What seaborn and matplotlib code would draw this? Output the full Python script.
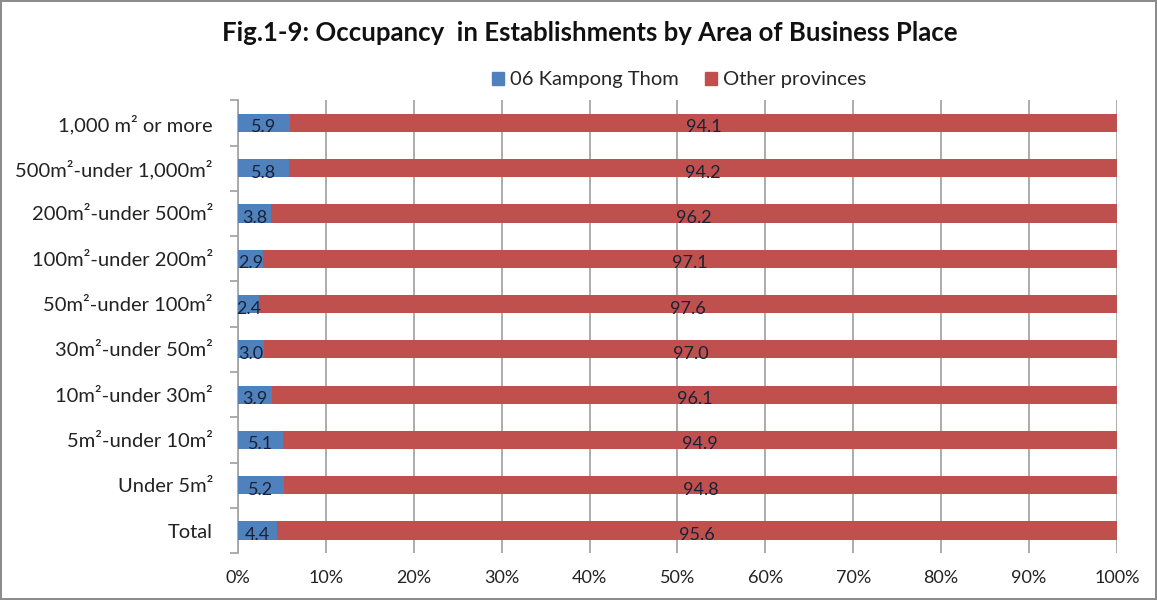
import numpy as np
import pandas as pd
import matplotlib
matplotlib.use("Agg")
import matplotlib.pyplot as plt
import seaborn as sns
from matplotlib.ticker import FixedLocator, PercentFormatter
from matplotlib.patches import Patch

# dane
categories = [
    "1,000 m² or more",
    "500m²-under 1,000m²",
    "200m²-under 500m²",
    "100m²-under 200m²",
    "50m²-under 100m²",
    "30m²-under 50m²",
    "10m²-under 30m²",
    "5m²-under 10m²",
    "Under 5m²",
    "Total",
]
kampong_thom = [5.9, 5.8, 3.8, 2.9, 2.4, 3.0, 3.9, 5.1, 5.2, 4.4]
other_provinces = [94.1, 94.2, 96.2, 97.1, 97.6, 97.0, 96.1, 94.9, 94.8, 95.6]
series_names = ["06 Kampong Thom", "Other provinces"]

blue = "#4F81BD"
red = "#C0504D"
label_color = "#1A2238"

df = pd.DataFrame({
    "category": categories,
    "kt": kampong_thom,
    "other": other_provinces,
})
df["cum"] = df["kt"] + df["other"]

sns.set_style("white")
plt.rcParams["font.family"] = ["Lato", "DejaVu Sans"]

fig = plt.figure(figsize=(11.57, 6.0), dpi=100)
fig.patch.set_edgecolor("#8c8c8c")
fig.patch.set_linewidth(1.5)
ax = fig.add_axes([0.2057, 0.078, 0.7597, 0.755])

# skumulowane: najpierw suma (czerwony), potem niebieski na wierzchu
sns.barplot(data=df, x="cum", y="category", color=red, width=0.4, saturation=1,
            orient="h", ax=ax, linewidth=0, zorder=3)
sns.barplot(data=df, x="kt", y="category", color=blue, width=0.4, saturation=1,
            orient="h", ax=ax, linewidth=0, zorder=4)

# etykiety danych
for i, row in df.iterrows():
    ax.text(row["kt"] / 2, i + 0.1, f"{row['kt']:.1f}", ha="center", va="center",
            fontsize=13, color=label_color, zorder=5)
    ax.text(row["kt"] + row["other"] / 2, i + 0.1, f"{row['other']:.1f}",
            ha="center", va="center", fontsize=13, color=label_color, zorder=5)

ax.set_xlim(0, 100)
ax.set_ylim(len(categories) - 0.5, -0.5)
ax.xaxis.set_major_locator(FixedLocator(np.arange(0, 101, 10)))
ax.xaxis.set_major_formatter(PercentFormatter(decimals=0))
ax.grid(axis="x", color="#a6a6a6", linewidth=1.3, zorder=0)
ax.set_axisbelow(True)
ax.set_xlabel("")
ax.set_ylabel("")

for s in ["top", "right", "bottom"]:
    ax.spines[s].set_visible(False)
ax.spines["left"].set_color("#a6a6a6")
ax.spines["left"].set_linewidth(1.3)

# znaczniki osi Y miedzy kategoriami (styl Excela)
ax.yaxis.set_minor_locator(FixedLocator(np.arange(-0.5, len(categories), 1)))
ax.tick_params(axis="y", which="major", length=0, labelsize=14.5, pad=18, colors="#222222")
ax.tick_params(axis="y", which="minor", length=6, color="#a6a6a6", width=1.3, left=True)
ax.tick_params(axis="x", length=0, labelsize=13, pad=12, colors="#222222")

# legenda
handles = [Patch(color=blue), Patch(color=red)]
fig.legend(handles, series_names, loc="center",
           bbox_to_anchor=(0.587, 0.867), ncol=2, frameon=False, fontsize=14.5,
           handlelength=0.6, handleheight=0.6, handletextpad=0.3, columnspacing=1.3)

fig.suptitle("Fig.1-9: Occupancy  in Establishments by Area of Business Place",
             x=0.51, y=0.965, fontsize=18.5, fontweight="bold", color="#111111")

fig.savefig("out.png", dpi=100, edgecolor=fig.get_edgecolor())
